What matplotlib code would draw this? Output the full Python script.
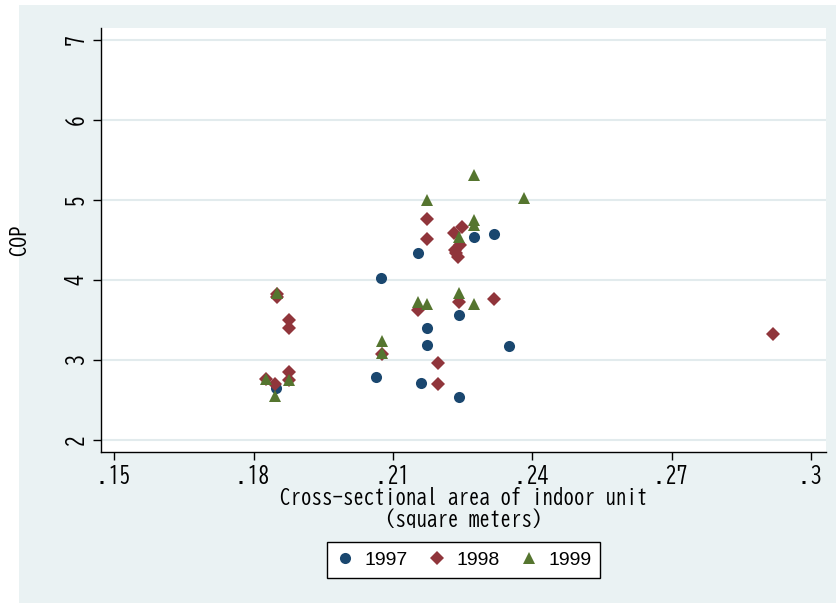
import matplotlib
matplotlib.use('Agg')
import matplotlib.pyplot as plt
from matplotlib.patches import Rectangle

# indoor unit cross-sectional area (m^2) and COP
x97 = [0.1848, 0.2074, 0.2063, 0.2154, 0.2173, 0.2173, 0.2160, 0.2242, 0.2242, 0.2275, 0.2318, 0.2350]
y97 = [2.64, 4.02, 2.78, 4.33, 3.40, 3.18, 2.71, 3.56, 2.53, 4.54, 4.57, 3.17]

x98 = [0.2173, 0.2173, 0.2248, 0.2230, 0.2233, 0.2244, 0.2240, 0.2236, 0.2154, 0.2242, 0.2318,
       0.2197, 0.2197, 0.2075, 0.1849, 0.1849, 0.1876, 0.1876, 0.1876, 0.1876, 0.1826, 0.1846, 0.2918]
y98 = [4.76, 4.51, 4.66, 4.58, 4.37, 4.43, 4.28, 4.33, 3.62, 3.72, 3.76,
       2.96, 2.70, 3.07, 3.78, 3.82, 3.49, 3.39, 2.84, 2.74, 2.76, 2.69, 3.32]

x99 = [0.2275, 0.2173, 0.2382, 0.2275, 0.2275, 0.2242, 0.2154, 0.2173, 0.2242, 0.2275,
       0.2075, 0.2075, 0.1849, 0.1826, 0.1876, 0.1846]
y99 = [5.31, 5.00, 5.02, 4.75, 4.69, 4.53, 3.72, 3.69, 3.83, 3.70,
       3.23, 3.08, 3.83, 2.76, 2.74, 2.54]

xticks = [0.15, 0.18, 0.21, 0.24, 0.27, 0.30]
xticklabels = ['.15', '.18', '.21', '.24', '.27', '.3']
yticks = [2, 3, 4, 5, 6, 7]

GOTHIC = ['BIZ UDGothic', 'DejaVu Sans Mono']
BG = '#eaf2f3'

fig = plt.figure(figsize=(8.36, 6.03), dpi=100)
fig.patches.append(Rectangle((19 / 836, 0), 1, 1 - 5 / 603, transform=fig.transFigure,
                             facecolor=BG, edgecolor='none', zorder=-10))

ax = fig.add_axes([101 / 836, 1 - 451.5 / 603, 725 / 836, 423.5 / 603])
ax.set_facecolor('white')

ax.plot(x97, y97, 'o', color='#1a476f', markersize=8, markeredgewidth=0, label='1997')
ax.plot(x98, y98, 'D', color='#90353b', markersize=7.2, markeredgewidth=0, label='1998')
ax.plot(x99, y99, '^', color='#55752f', markersize=9, markeredgewidth=0, label='1999')

ax.set_xlim(0.1471, 0.3032)
ax.set_ylim(1.85, 7.15)
ax.set_xticks(xticks)
ax.set_xticklabels(xticklabels, family=GOTHIC, fontsize=15.5)
ax.set_yticks(yticks)
ax.set_yticklabels([str(v) for v in yticks], family=GOTHIC, fontsize=15.5,
                   rotation=90, va='center')

ax.yaxis.grid(True, color='#e2ebed', linewidth=1.5)
ax.set_axisbelow(True)
for s in ['top', 'right']:
    ax.spines[s].set_visible(False)
for s in ['left', 'bottom']:
    ax.spines[s].set_linewidth(1.0)
ax.tick_params(direction='out', length=6, width=1.0)
ax.tick_params(axis='x', pad=3)
ax.tick_params(axis='y', pad=5)

ax.set_xlabel('Cross-sectional area of indoor unit\n(square meters)',
              family=GOTHIC, fontsize=15, linespacing=1.1, labelpad=1)
ax.set_ylabel('COP', family=GOTHIC, fontsize=15, labelpad=26)

leg = fig.legend(loc='center', bbox_to_anchor=(463.5 / 836, 1 - 560 / 603), ncol=3,
                 prop={'family': 'Liberation Sans', 'size': 14}, frameon=True,
                 fancybox=False, edgecolor='black', framealpha=1,
                 handlelength=1.0, handletextpad=0.5, columnspacing=1.0,
                 borderpad=0.45, numpoints=1)
leg.get_frame().set_linewidth(1.0)

fig.savefig('out.png', dpi=100)
